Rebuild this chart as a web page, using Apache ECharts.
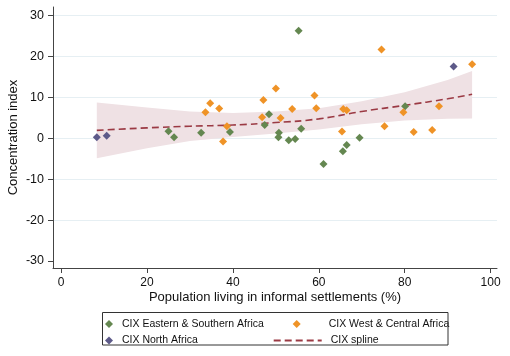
<!DOCTYPE html>
<html>
<head>
<meta charset="utf-8">
<script src="https://cdn.jsdelivr.net/npm/echarts@6/dist/echarts.min.js"></script>
<style>
html,body{margin:0;padding:0;background:#fff;}
#chart{width:510px;height:356px;}
</style>
</head>
<body>
<div id="chart"></div>
<script>
// ---- data ----
const xTicks = [0, 20, 40, 60, 80, 100];
const yTicks = [-30, -20, -10, 0, 10, 20, 30];

const eastX = [25.0, 26.3, 32.6, 39.3, 47.4, 48.4, 50.6, 50.7, 53.0, 54.5, 55.3, 55.9, 61.1, 65.6, 66.5, 69.5, 80.1];
const eastY = [1.7, 0.2, 1.3, 1.5, 3.2, 5.8, 0.2, 1.3, -0.5, -0.2, 26.2, 2.3, -6.3, -3.2, -1.7, 0.1, 7.8];

const westX = [33.6, 34.7, 36.8, 37.7, 38.6, 46.8, 47.1, 50.0, 51.1, 53.8, 59.0, 59.4, 65.4, 65.7, 66.5, 74.6, 75.3, 79.7, 82.1, 86.4, 88.0, 95.7];
const westY = [6.3, 8.5, 7.2, -0.8, 2.9, 5.1, 9.3, 12.1, 4.9, 7.1, 10.4, 7.3, 1.6, 7.1, 6.8, 21.6, 2.9, 6.3, 1.5, 2.0, 7.8, 18.0];

const northX = [8.3, 10.6, 91.4];
const northY = [0.2, 0.6, 17.5];

const splineX = [8.3, 20, 30, 40, 50, 60, 70, 80, 90, 95.7];
const splineY = [1.9, 2.5, 2.9, 3.2, 3.8, 4.7, 6.5, 8.0, 9.6, 10.7];
const ciLow  = [-4.9, -2.5, -0.7, 0.3, 1.1, 2.1, 3.4, 4.3, 4.7, 4.8];
const ciHigh = [8.7, 7.5, 6.5, 6.1, 6.5, 7.3, 9.0, 11.2, 14.2, 16.4];

const names = {
  east: 'CIX Eastern & Southern Africa',
  west: 'CIX West & Central Africa',
  north: 'CIX North Africa',
  spline: 'CIX spline'
};

// ---- build ----
const zip = (xs, ys) => xs.map((x, i) => [x, ys[i]]);
const FONT = '"Liberation Sans", Arial, Helvetica, sans-serif';
const C_EAST = '#648750', C_WEST = '#ef9327', C_NORTH = '#5d5a89', C_SPLINE = '#9b3a44', C_BAND = '#efe1e4';
const C_GRID = '#e6eff3';

const chart = echarts.init(document.getElementById('chart'), null, {renderer: 'canvas'});

const legendBase = {
  orient: 'horizontal', padding: 0, itemHeight: 8, itemWidth: 8, selectedMode: false,
  textStyle: {fontFamily: FONT, fontSize: 10.5, color: '#111', lineHeight: 14}
};

// band data: [x, low, high]
const bandData = splineX.map((x, i) => [x, ciLow[i], ciHigh[i]]);

function renderBand(params, api) {
  if (params.dataIndex !== 0) return null;
  const upper = [], lower = [];
  for (let i = 0; i < bandData.length; i++) {
    upper.push(api.coord([bandData[i][0], bandData[i][2]]));
    lower.push(api.coord([bandData[i][0], bandData[i][1]]));
  }
  const pts = upper.concat(lower.reverse());
  return {
    type: 'polygon',
    shape: {points: pts, smooth: 0},
    style: {fill: C_BAND, stroke: 'none'},
    silent: true
  };
}

const option = {
  animation: false,
  backgroundColor: '#fff',
  grid: {left: 53, right: 13, top: 7, bottom: 88, containLabel: false, outerBoundsMode: 'none'},
  xAxis: {
    type: 'value', min: -1.9, max: 101.5,
    name: 'Population living in informal settlements (%)',
    nameLocation: 'middle', nameGap: 23, nameMoveOverlap: false,
    nameTextStyle: {fontFamily: FONT, fontSize: 13, color: '#111'},
    axisLine: {show: true, onZero: false, lineStyle: {color: '#444', width: 1}},
    axisTick: {show: true, length: 5, customValues: xTicks, lineStyle: {color: '#444'}},
    axisLabel: {customValues: xTicks, margin: 9, fontFamily: FONT, fontSize: 12, color: '#111'},
    splitLine: {show: false}
  },
  yAxis: {
    type: 'value', min: -31.7, max: 32,
    name: 'Concentration index',
    nameLocation: 'middle', nameGap: 33, nameMoveOverlap: false,
    nameTextStyle: {fontFamily: FONT, fontSize: 13, color: '#111'},
    axisLine: {show: true, onZero: false, lineStyle: {color: '#444', width: 1}},
    axisTick: {show: true, length: 5, customValues: yTicks, lineStyle: {color: '#444'}},
    axisLabel: {customValues: yTicks, margin: 9, fontFamily: FONT, fontSize: 12.5, color: '#111'},
    splitLine: {show: true, lineStyle: {color: ['rgba(0,0,0,0)', C_GRID, C_GRID, C_GRID, C_GRID, C_GRID, C_GRID], width: 1}}
  },
  legend: [
    Object.assign({}, legendBase, {left: 105, top: 317, data: [names.east],
      textStyle: Object.assign({}, legendBase.textStyle, {padding: [0, 0, 0, 4]})}),
    Object.assign({}, legendBase, {left: 292.7, top: 317, data: [names.west],
      textStyle: Object.assign({}, legendBase.textStyle, {padding: [0, 0, 0, 23]})}),
    Object.assign({}, legendBase, {left: 105, top: 333.5, data: [names.north],
      textStyle: Object.assign({}, legendBase.textStyle, {padding: [0, 0, 0, 4]})}),
    Object.assign({}, legendBase, {left: 272.7, top: 333.5, itemWidth: 48, data: [names.spline],
      itemStyle: {opacity: 0},
      textStyle: Object.assign({}, legendBase.textStyle, {padding: [0, 0, 0, 4]})})
  ],
  graphic: [{
    type: 'rect', shape: {x: 102.5, y: 312.5, width: 345.5, height: 32.5},
    style: {fill: 'none', stroke: '#333', lineWidth: 1}, silent: true, z: 10
  }],
  series: [
    {
      name: 'ciBand', type: 'custom', data: bandData, renderItem: renderBand,
      encode: {x: 0, y: [1, 2]}, silent: true, clip: true, z: 1
    },
    {
      name: names.spline, type: 'line', data: zip(splineX, splineY), smooth: true,
      symbol: 'none', color: C_SPLINE,
      lineStyle: {color: C_SPLINE, width: 1.6, type: [7, 4]}, z: 3
    },
    {
      name: names.east, type: 'scatter', data: zip(eastX, eastY), symbol: 'diamond',
      symbolSize: 8, symbolKeepAspect: true, itemStyle: {color: C_EAST, opacity: 1}, z: 4
    },
    {
      name: names.west, type: 'scatter', data: zip(westX, westY), symbol: 'diamond',
      symbolSize: 8, symbolKeepAspect: true, itemStyle: {color: C_WEST, opacity: 1}, z: 4
    },
    {
      name: names.north, type: 'scatter', data: zip(northX, northY), symbol: 'diamond',
      symbolSize: 8, symbolKeepAspect: true, itemStyle: {color: C_NORTH, opacity: 1}, z: 4
    }
  ]
};
chart.setOption(option);
</script>
</body>
</html>
